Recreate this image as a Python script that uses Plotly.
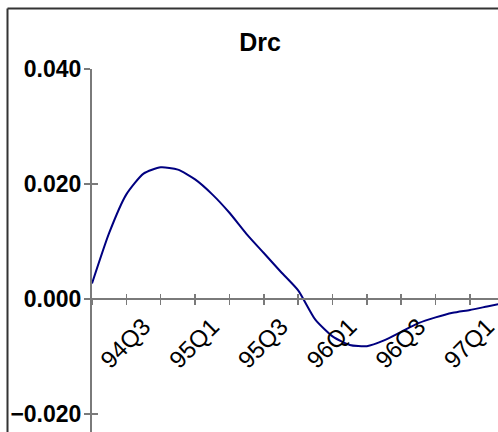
import plotly.graph_objects as go

# ---- data ----
quarter_pos = [0, 0.5, 1, 1.5, 2, 2.5, 3, 3.5, 4, 4.5, 5, 5.5, 6,
               6.5, 7, 7.5, 8, 8.5, 9, 9.5, 10, 10.5, 11, 11.5, 12]
drc_values = [0.0027, 0.0115, 0.0182, 0.0218, 0.0229, 0.0225, 0.0208, 0.0182,
              0.0150, 0.0113, 0.0080, 0.0047, 0.0015, -0.0036, -0.0065, -0.0080,
              -0.0082, -0.0072, -0.0057, -0.0042, -0.0032, -0.0024, -0.0019,
              -0.0013, -0.0007]
tick_label_pos = [1.5, 3.5, 5.5, 7.5, 9.5, 11.5]
tick_labels = ["94Q3", "95Q1", "95Q3", "96Q1", "96Q3", "97Q1"]
tick_mark_pos = list(range(0, 13))
y_ticks = [-0.02, 0.0, 0.02, 0.04]
title_text = "Drc"

W, H = 498, 432
ML, MR, MT, MB = 92, 0, 69, 0
x_range = [0, 11.816]
y_range = [-0.02313, 0.04]
zero_frac = (0 - y_range[0]) / (y_range[1] - y_range[0])

axis_col = "#7a7a7a"
frame_col = "#333333"

fig = go.Figure()
fig.add_trace(go.Scatter(x=quarter_pos, y=drc_values, mode="lines",
                         line=dict(color="#000080", width=2, shape="spline", smoothing=0.6),
                         hoverinfo="skip", showlegend=False, cliponaxis=True))
# invisible traces to carry the overlay axes
fig.add_trace(go.Scatter(x=[None], y=[None], xaxis="x2", yaxis="y", showlegend=False))
fig.add_trace(go.Scatter(x=[None], y=[None], xaxis="x3", yaxis="y", showlegend=False))
fig.add_trace(go.Scatter(x=[None], y=[None], xaxis="x", yaxis="y2", showlegend=False))

lab_font = dict(family="Liberation Sans, Arial, sans-serif", size=24, color="#000000")
ytick_font = dict(family="Liberation Sans, Arial, sans-serif",
                  size=23, color="#000000", weight="bold")

fig.update_layout(
    width=W, height=H,
    margin=dict(l=ML, r=MR, t=MT, b=MB, pad=0, autoexpand=False),
    paper_bgcolor="white", plot_bgcolor="white",
    showlegend=False,
    title=dict(text=title_text, x=260 / W, xanchor="center", xref="container",
               y=1 - 42 / H, yanchor="middle", yref="container",
               font=dict(family="Liberation Sans, Arial, sans-serif", size=25,
                         color="#000000", weight="bold")),
    xaxis=dict(range=x_range, anchor="free", position=zero_frac, automargin=False,
               tickmode="array", tickvals=tick_label_pos, ticktext=tick_labels,
               ticks="", tickangle=-45, tickfont=lab_font, ticklabelstandoff=3,
               ticklabeloverflow="allow",
               showline=True, linecolor=axis_col, linewidth=2,
               showgrid=False, zeroline=False),
    xaxis2=dict(range=x_range, overlaying="x", anchor="free", position=zero_frac,
                automargin=False,
                tickmode="array", tickvals=tick_mark_pos, ticks="outside", ticklen=5,
                tickwidth=1.5, tickcolor=axis_col, showticklabels=False,
                showline=False, showgrid=False, zeroline=False),
    xaxis3=dict(range=x_range, overlaying="x", anchor="free", position=zero_frac,
                automargin=False,
                tickmode="array", tickvals=tick_mark_pos, ticks="inside", ticklen=5,
                tickwidth=1.5, tickcolor=axis_col, showticklabels=False,
                showline=False, showgrid=False, zeroline=False),
    yaxis=dict(range=y_range, tickmode="array", tickvals=y_ticks, tickformat=".3f",
               automargin=False, ticklabeloverflow="allow",
               ticks="outside", ticklen=6, tickwidth=1.5, tickcolor=axis_col,
               tickfont=ytick_font, ticklabelstandoff=-2,
               showline=True, linecolor=axis_col, linewidth=2,
               showgrid=False, zeroline=False),
    yaxis2=dict(range=y_range, overlaying="y", anchor="x", side="left",
                automargin=False,
                tickmode="array", tickvals=y_ticks, ticks="inside", ticklen=6,
                tickwidth=1.5, tickcolor=axis_col, showticklabels=False,
                showline=False, showgrid=False, zeroline=False),
)

# outer frame (top and left edges visible in the reference)
pw = W - ML - MR
ph = H - MT - MB
fx = (7.5 - ML) / pw
fy = (H - MB - 8.5) / ph
fig.add_shape(type="line", xref="paper", yref="paper", x0=fx, x1=1.3, y0=fy, y1=fy,
              line=dict(color=frame_col, width=2), layer="above")
fig.add_shape(type="line", xref="paper", yref="paper", x0=fx, x1=fx, y0=fy, y1=-0.3,
              line=dict(color=frame_col, width=2), layer="above")

fig.write_html("out.html", config={"displayModeBar": False, "staticPlot": True},
               post_script="document.body.style.margin='0';document.body.style.padding='0';")
